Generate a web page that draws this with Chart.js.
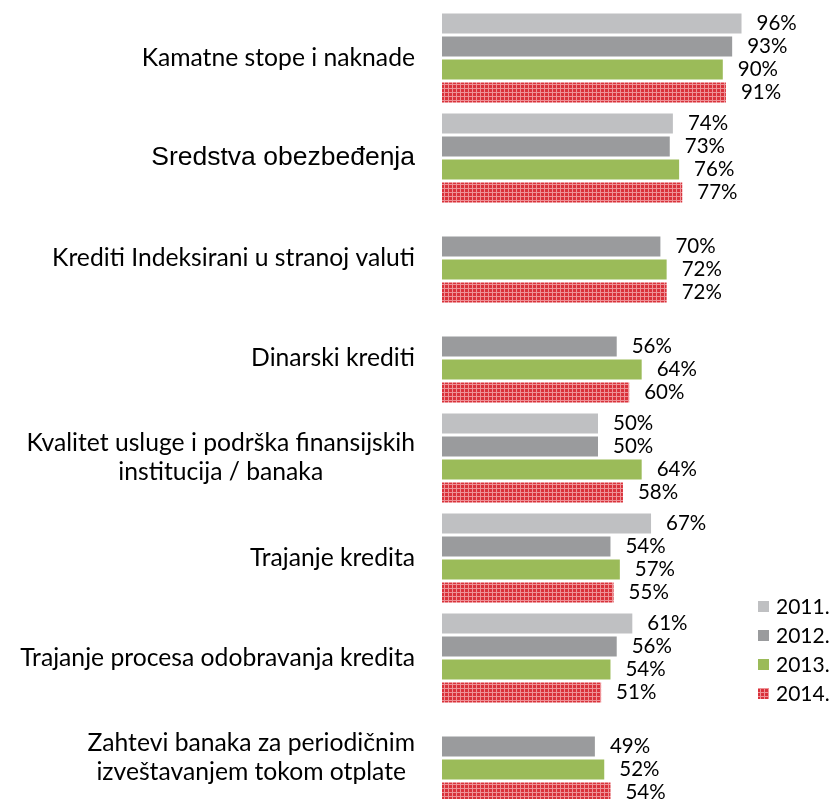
<!DOCTYPE html>
<html>
<head>
<meta charset="utf-8">
<script src="https://cdn.jsdelivr.net/npm/chart.js@4.4.1/dist/chart.umd.min.js"></script>
<style>
 html, body { margin: 0; padding: 0; background: #ffffff; overflow: hidden; }
 #wrap { position: relative; width: 831px; height: 808px; }
</style>
</head>
<body>
<div id="wrap"><canvas id="graf"></canvas></div>
<script>
/******************************************* Podaci ***************************************************************************/
 var kategorije = [ ["Kamatne stope i naknade"],
                    ["Sredstva obezbeđenja"],
                    ["Krediti Indeksirani u stranoj valuti"],
                    ["Dinarski krediti"],
                    ["Kvalitet usluge i podrška finansijskih", "institucija / banaka"],
                    ["Trajanje kredita"],
                    ["Trajanje procesa odobravanja kredita"],
                    ["Zahtevi banaka za periodičnim", "izveštavanjem tokom otplate"] ];
 var godine    = [ "2011.", "2012.", "2013.", "2014." ];
 var vred2011  = [ 96, 74, null, null, 50, 67, 61, null ];
 var vred2012  = [ 93, 73, 70, 56, 50, 54, 56, 49 ];
 var vred2013  = [ 90, 76, 72, 64, 64, 57, 54, 52 ];
 var vred2014  = [ 91, 77, 72, 60, 58, 55, 51, 54 ];

/******************************************* Motiv za 2014 ********************************************************************/
 function Motiv_crveni ()
  { var c = document.createElement("canvas");
    c.width = 4; c.height = 4;
    var g = c.getContext("2d");
    g.fillStyle = "#d9323b"; g.fillRect(0, 0, 4, 4);
    g.fillStyle = "#ee9297"; g.fillRect(0, 0, 4, 1);
    g.fillRect(0, 0, 1, 4);
    return( g.createPattern(c, "repeat") );
  }

 var boje = [ "#bfc0c2", "#9a9b9d", "#9bbb59", Motiv_crveni() ];
 var FONT_TXT = "Lato, 'Open Sans', sans-serif";

/******************************************* Oznake kategorija (desno poravnate) **********************************************/
 var oznakeY =
  { id: "oznakeY",
    afterDraw: function (chart)
     { var ctx = chart.ctx, y = chart.scales.y;
       ctx.save();
       ctx.fillStyle = "#000000";
       ctx.textBaseline = "middle";
       ctx.textAlign = "center";
       for (var i=0; i<kategorije.length; i++)
        { var linije = kategorije[i];
          if (i==1) ctx.font = "26.5px 'Liberation Sans', Arial, sans-serif";
               else ctx.font = "24.7px " + FONT_TXT;
          var sirina = 0;
          linije.forEach( function(l) { sirina = Math.max(sirina, ctx.measureText(l).width); } );
          var cx = 415 - sirina/2;
          var cy = y.getPixelForValue(i) - (linije.length-1)*29/2;
          for (var j=0; j<linije.length; j++) ctx.fillText(linije[j], cx, cy + j*29);
        }
       ctx.restore();
     }
  };

/******************************************* Vrednosti pored stubica **********************************************************/
 var vrednosti =
  { id: "vrednosti",
    afterDatasetsDraw: function (chart)
     { var ctx = chart.ctx;
       ctx.save();
       ctx.fillStyle = "#000000";
       ctx.font = "20.5px " + FONT_TXT;
       ctx.textBaseline = "middle";
       ctx.textAlign = "left";
       chart.data.datasets.forEach( function (ds, d)
        { var meta = chart.getDatasetMeta(d);
          meta.data.forEach( function (el, i)
           { if (ds.data[i] == null) return;
             ctx.fillText(ds.data[i] + "%", el.x + 15, el.y);
           });
        });
       ctx.restore();
     }
  };

/******************************************* Legenda dole desno ***************************************************************/
 var legenda =
  { id: "legenda",
    afterDraw: function (chart)
     { var ctx = chart.ctx;
       ctx.save();
       ctx.font = "21px " + FONT_TXT;
       ctx.textBaseline = "middle";
       ctx.textAlign = "left";
       for (var i=0; i<godine.length; i++)
        { var cy = 606 + i*29;
          ctx.fillStyle = chart.data.datasets[i].backgroundColor;
          ctx.fillRect(758, cy-5, 11, 11);
          ctx.fillStyle = "#000000";
          ctx.fillText(godine[i], 776, cy + 1);
        }
       ctx.restore();
     }
  };

 var skupovi = [ vred2011, vred2012, vred2013, vred2014 ].map( function (v, i)
  { return( { label: godine[i], data: v, backgroundColor: boje[i], borderWidth: 0,
              categoryPercentage: 0.92, barPercentage: 0.87 } );
  });

 new Chart( document.getElementById("graf"),
  { type: "bar",
    data: { labels: kategorije.map( function (k) { return k.join(" "); } ), datasets: skupovi },
    options: { indexAxis: "y",
               responsive: true, maintainAspectRatio: false, animation: false,
               layout: { padding: { left: 442, right: 77, top: 8, bottom: 0 } },
               scales: { x: { display: false, min: 0, max: 100 },
                         y: { display: false }
                       },
               plugins: { legend: { display: false }, tooltip: { enabled: false } }
             },
    plugins: [ oznakeY, vrednosti, legenda ]
  });
</script>
</body>
</html>
